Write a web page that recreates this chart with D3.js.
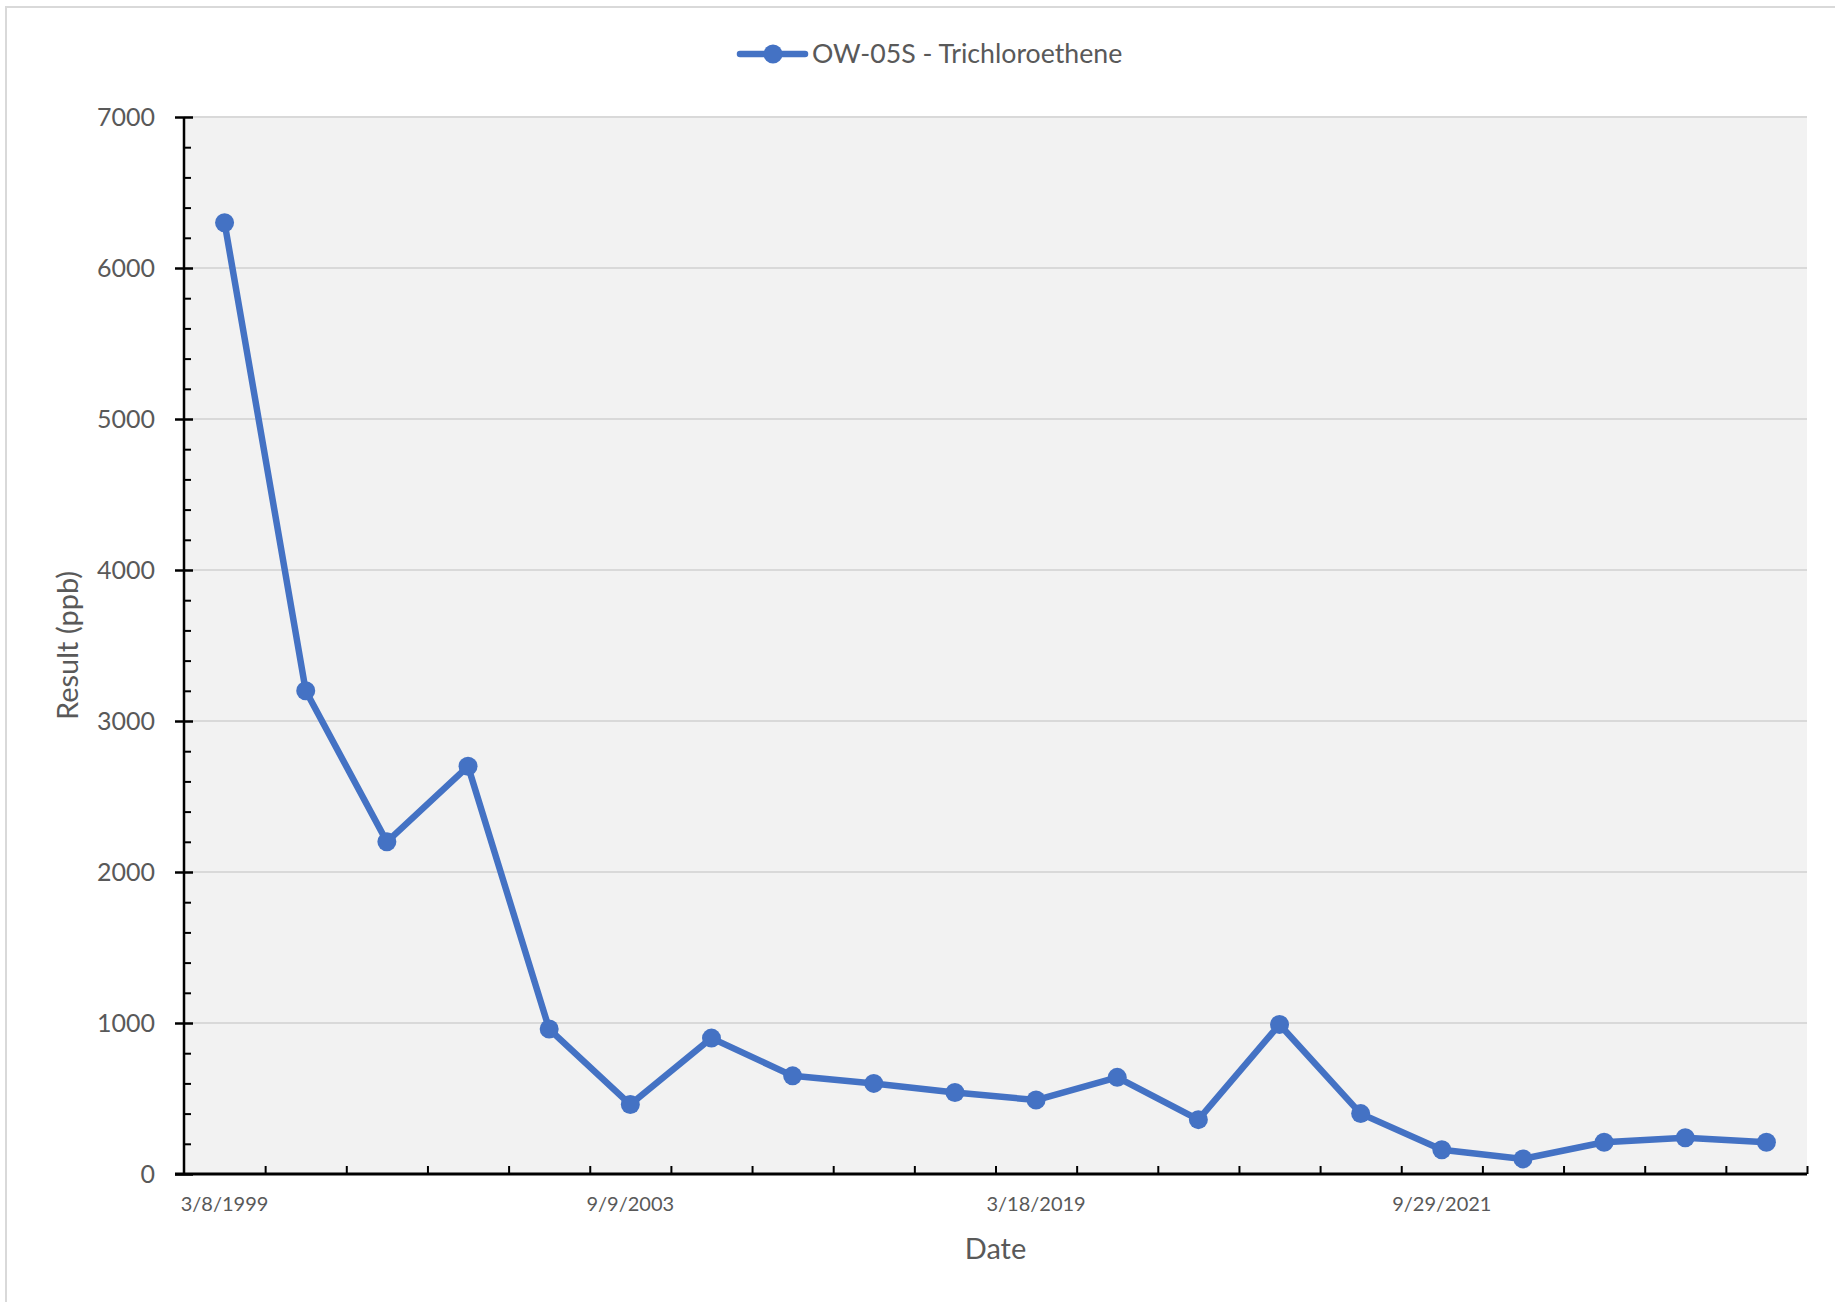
<!DOCTYPE html>
<html>
<head>
<meta charset="utf-8">
<script src="https://cdn.jsdelivr.net/npm/d3@7"></script>
<style>
  html, body { margin: 0; padding: 0; background: #ffffff; }
  svg { display: block; }
  text { font-family: Lato, "Open Sans", sans-serif; fill: #595959; }
</style>
</head>
<body>
<svg id="chart" width="1835" height="1302"></svg>
<script>
// ---- data ----
const seriesName = "OW-05S - Trichloroethene";
const sampleNo = [1, 2, 3, 4, 5, 6, 7, 8, 9, 10, 11, 12, 13, 14, 15, 16, 17, 18, 19, 20];
const dateLabels = ["3/8/1999", "", "", "", "", "9/9/2003", "", "", "", "", "3/18/2019", "", "", "", "", "9/29/2021", "", "", "", ""];
const resultPpb = [6300, 3200, 2200, 2700, 960, 460, 900, 650, 600, 540, 490, 640, 360, 990, 400, 160, 100, 210, 240, 210];
const yTicks = [0, 1000, 2000, 3000, 4000, 5000, 6000, 7000];
const yMax = 7000;

(function () {
// ---- layout ----
const W = 1835, H = 1302;
const pLeft = 184, pRight = 1807, pTop = 117, pBottom = 1174;
const lineColor = "#4472c4";

const svg = d3.select("#chart");

// outer chart border
svg.append("rect")
  .attr("x", 6).attr("y", 7)
  .attr("width", W + 10).attr("height", H + 10)
  .attr("fill", "#ffffff").attr("stroke", "#d9d9d9").attr("stroke-width", 2);

const x = d3.scaleBand().domain(sampleNo).range([pLeft, pRight]);
const xEdge = d3.scaleLinear().domain([0, sampleNo.length]).range([pLeft, pRight]);
const y = d3.scaleLinear().domain([0, yMax]).range([pBottom, pTop]);

// plot background
svg.append("rect")
  .attr("x", pLeft).attr("y", pTop)
  .attr("width", pRight - pLeft).attr("height", pBottom - pTop)
  .attr("fill", "#f2f2f2");

// gridlines
svg.append("g")
  .selectAll("line")
  .data(yTicks.filter(v => v > 0))
  .join("line")
  .attr("x1", pLeft).attr("x2", pRight)
  .attr("y1", d => y(d)).attr("y2", d => y(d))
  .attr("stroke", "#d9d9d9").attr("stroke-width", 2);

// y minor ticks (inside)
const minorTicks = d3.range(0, yMax + 1, 200).filter(v => v % 1000 !== 0);
const yMinor = svg.append("g")
  .attr("transform", `translate(${pLeft},0)`)
  .call(d3.axisRight(y).tickValues(minorTicks).tickSize(7).tickFormat(""));
yMinor.select(".domain").remove();
yMinor.selectAll(".tick line").attr("stroke", "#000").attr("stroke-width", 2);

// y major axis
const yAxis = svg.append("g")
  .attr("transform", `translate(${pLeft},0)`)
  .call(d3.axisLeft(y).tickValues(yTicks).tickSize(8).tickPadding(21).tickFormat(d3.format("d")));
yAxis.select(".domain").remove();
yAxis.selectAll(".tick line").attr("x1", -9).attr("x2", 9).attr("stroke", "#000").attr("stroke-width", 2.5);
yAxis.selectAll(".tick text")
  .style("font-family", "Lato, sans-serif").style("font-size", "25px").attr("fill", "#595959");
svg.append("line")
  .attr("x1", pLeft).attr("x2", pLeft).attr("y1", pTop).attr("y2", pBottom + 1)
  .attr("stroke", "#000").attr("stroke-width", 2.5);

// x ticks at category boundaries (inside)
const xTickAxis = svg.append("g")
  .attr("transform", `translate(0,${pBottom})`)
  .call(d3.axisBottom(xEdge).tickValues(d3.range(1, sampleNo.length + 1)).tickSize(-8).tickFormat(""));
xTickAxis.select(".domain").remove();
xTickAxis.selectAll(".tick line").attr("stroke", "#000").attr("stroke-width", 2);

// x labels
const xLab = svg.append("g")
  .attr("transform", `translate(0,${pBottom})`)
  .call(d3.axisBottom(x).tickSize(0).tickPadding(23).tickFormat((d, i) => dateLabels[i]));
xLab.select(".domain").remove();
xLab.selectAll(".tick text")
  .style("font-family", "Lato, sans-serif").style("font-size", "20px").attr("fill", "#595959");

// x axis line
svg.append("line")
  .attr("x1", pLeft - 9).attr("x2", pRight).attr("y1", pBottom).attr("y2", pBottom)
  .attr("stroke", "#000").attr("stroke-width", 3);

// series line
const pts = sampleNo.map((s, i) => ({ s, v: resultPpb[i] }));
svg.append("path")
  .datum(pts)
  .attr("fill", "none")
  .attr("stroke", lineColor)
  .attr("stroke-width", 6.5)
  .attr("stroke-linejoin", "round")
  .attr("stroke-linecap", "round")
  .attr("d", d3.line().x(d => x(d.s) + x.bandwidth() / 2).y(d => y(d.v)));

svg.append("g")
  .selectAll("circle")
  .data(pts)
  .join("circle")
  .attr("cx", d => x(d.s) + x.bandwidth() / 2)
  .attr("cy", d => y(d.v))
  .attr("r", 9.5)
  .attr("fill", lineColor);

// axis titles
svg.append("text")
  .attr("x", (pLeft + pRight) / 2).attr("y", 1259)
  .attr("text-anchor", "middle")
  .style("font-size", "29px")
  .text("Date");

svg.append("text")
  .attr("transform", `translate(78,${(pTop + pBottom) / 2}) rotate(-90)`)
  .attr("text-anchor", "middle")
  .style("font-size", "29px")
  .text("Result (ppb)");

// legend
const lg = svg.append("g");
lg.append("line")
  .attr("x1", 740).attr("x2", 805).attr("y1", 54).attr("y2", 54)
  .attr("stroke", lineColor).attr("stroke-width", 6.5).attr("stroke-linecap", "round");
lg.append("circle").attr("cx", 773).attr("cy", 54).attr("r", 9.5).attr("fill", lineColor);
lg.append("text")
  .attr("x", 812).attr("y", 63)
  .style("font-size", "26.7px")
  .text(seriesName);
})();
</script>
</body>
</html>
